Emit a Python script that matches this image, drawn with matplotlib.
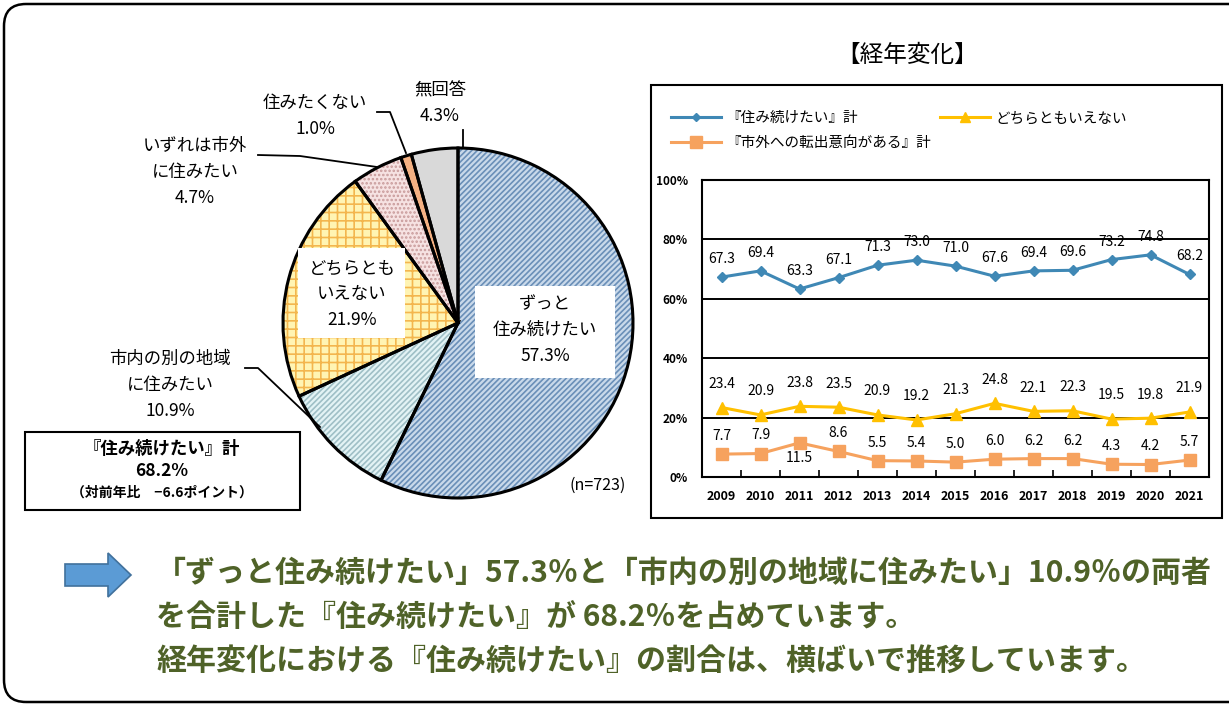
import matplotlib as mpl
import matplotlib.pyplot as plt
from matplotlib.patches import Rectangle, FancyBboxPatch, Polygon
from matplotlib.lines import Line2D
import numpy as np

plt.rcParams['font.family'] = ['Noto Sans CJK JP', 'DejaVu Sans']
plt.rcParams['hatch.linewidth'] = 1.2

# pie data (clockwise from top)
pie_labels = ['ずっと\n住み続けたい', '市内の別の地域\nに住みたい', 'どちらとも\nいえない',
              'いずれは市外\nに住みたい', '住みたくない', '無回答']
pie_values = [57.3, 10.9, 21.9, 4.7, 1.0, 4.3]
pie_n = 723

# trend data
years = ['2009', '2010', '2011', '2012', '2013', '2014', '2015', '2016', '2017',
         '2018', '2019', '2020', '2021']
stay_total = [67.3, 69.4, 63.3, 67.1, 71.3, 73.0, 71.0, 67.6, 69.4, 69.6, 73.2, 74.8, 68.2]
neither = [23.4, 20.9, 23.8, 23.5, 20.9, 19.2, 21.3, 24.8, 22.1, 22.3, 19.5, 19.8, 21.9]
move_out = [7.7, 7.9, 11.5, 8.6, 5.5, 5.4, 5.0, 6.0, 6.2, 6.2, 4.3, 4.2, 5.7]
series_names = ['『住み続けたい』計', 'どちらともいえない', '『市外への転出意向がある』計']

W, H = 1229, 706
fig = plt.figure(figsize=(W / 100, H / 100), dpi=100)

# overlay axes in pixel coordinates (y up)
ov = fig.add_axes([0, 0, 1, 1])


def py(y):
    return H - y


face = ['#c9d9ea', '#e3f3f5', '#fff4b3', '#f6e2e2', '#f4b183', '#d9d9d9']
hatch_c = ['#6a8fb8', '#9fbfc6', '#f3b64e', '#c89a9a', '#f4b183', '#d9d9d9']
hatches = ['//////', '//////', '++', '....', None, None]
cx, cy, r = 458, py(323), 175

wedges, _ = ov.pie(pie_values, startangle=90, counterclock=False, colors=face,
                   center=(cx, cy), radius=r, wedgeprops=dict(linewidth=0))
for w, hc, h in zip(wedges, hatch_c, hatches):
    w.set_edgecolor(hc)
    if h:
        w.set_hatch(h)
ov.pie(pie_values, startangle=90, counterclock=False, center=(cx, cy), radius=r,
       wedgeprops=dict(fill=False, edgecolor='black', linewidth=2.2))

ov.set_xlim(0, W)
ov.set_ylim(0, H)
ov.set_aspect('auto')
ov.axis('off')

# outer rounded frame
ov.add_patch(FancyBboxPatch((4, 4), W + 20, H - 8, boxstyle='round,pad=0,rounding_size=22',
                            fill=False, edgecolor='black', linewidth=1.8))

# label boxes inside pie
ov.add_patch(Rectangle((475, py(378)), 140, 92, facecolor='white', edgecolor='none', zorder=3))
ov.add_patch(Rectangle((298, py(338)), 107, 90, facecolor='white', edgecolor='none', zorder=3))

pf = 12.5
ov.text(545, py(330), '%s\n%.1f%%' % (pie_labels[0], pie_values[0]), ha='center', va='center',
        fontsize=pf, linespacing=1.55, zorder=4)
ov.text(352, py(294), '%s\n%.1f%%' % (pie_labels[2], pie_values[2]), ha='center', va='center',
        fontsize=pf, linespacing=1.55, zorder=4)
ov.text(170, py(385), '%s\n%.1f%%' % (pie_labels[1], pie_values[1]), ha='center', va='center',
        fontsize=pf, linespacing=1.55)
ov.text(195, py(172), '%s\n%.1f%%' % (pie_labels[3], pie_values[3]), ha='center', va='center',
        fontsize=pf, linespacing=1.55)
ov.text(315, py(116), '%s\n%.1f%%' % (pie_labels[4], pie_values[4]), ha='center', va='center',
        fontsize=pf, linespacing=1.55)
ov.text(440, py(103), '%s\n%.1f%%' % (pie_labels[5], pie_values[5]), ha='center', va='center',
        fontsize=pf, linespacing=1.55)
ov.text(598, py(485), '(n=%d)' % pie_n, ha='center', va='center', fontsize=11.5)

# leader lines
for xs, ys in [([245, 258, 320], [368, 368, 427]),
               ([258, 300, 377], [155, 156, 167]),
               ([377, 390, 406], [112, 112, 153]),
               ([463, 463], [130, 148])]:
    ov.plot(xs, [py(v) for v in ys], color='black', linewidth=1.3)

# summary box
ov.add_patch(Rectangle((25, py(510)), 275, 78, fill=False, edgecolor='black', linewidth=1.5))
ov.text(162, py(449), '『住み続けたい』計', ha='center', va='center', fontsize=12.5, fontweight='bold')
ov.text(162, py(471), '68.2%', ha='center', va='center', fontsize=12.5, fontweight='bold')
ov.text(162, py(493), '（対前年比　−6.6ポイント）', ha='center', va='center', fontsize=10,
        fontweight='bold')

# trend panel frame and title
ov.add_patch(Rectangle((651, py(518)), 571, 433, fill=False, edgecolor='black', linewidth=1.5))
ov.text(907, py(55), '【経年変化】', ha='center', va='center', fontsize=17)

# bottom arrow + text
ov.add_patch(Polygon([(65, py(564)), (108, py(564)), (108, py(553)), (131, py(575)),
                      (108, py(597)), (108, py(586)), (65, py(586))],
                     closed=True, facecolor='#5b9bd5', edgecolor='#41719c', linewidth=1.2))
txt_c = '#4f6228'
bottom_lines = ['「ずっと住み続けたい」57.3％と「市内の別の地域に住みたい」10.9％の両者',
                'を合計した『住み続けたい』が 68.2％を占めています。',
                '経年変化における『住み続けたい』の割合は、横ばいで推移しています。']
for i, s in enumerate(bottom_lines):
    ov.text(156, py(573 + 44 * i), s, ha='left', va='center', fontsize=21.6, fontweight='bold',
            color=txt_c)

# line chart
ax = fig.add_axes([702 / W, 1 - 477 / H, 507 / W, 297 / H])
x = np.arange(len(years))
c_blue, c_yel, c_org = '#3f88b5', '#ffc000', '#f6a25e'
ax.plot(x, stay_total, color=c_blue, marker='D', markersize=5, linewidth=2.2, label=series_names[0])
ax.plot(x, neither, color=c_yel, marker='^', markersize=9, linewidth=2.2, label=series_names[1])
ax.plot(x, move_out, color=c_org, marker='s', markersize=9, linewidth=2.2, label=series_names[2])

lf = 10
for i, v in enumerate(stay_total):
    ax.annotate('%.1f' % v, (i, v), xytext=(0, 13), textcoords='offset points', ha='center',
                va='center', fontsize=lf)
for i, v in enumerate(neither):
    ax.annotate('%.1f' % v, (i, v), xytext=(0, 17), textcoords='offset points', ha='center',
                va='center', fontsize=lf)
for i, v in enumerate(move_out):
    off = -11 if v == max(move_out) else 13
    ax.annotate('%.1f' % v, (i, v), xytext=(0, off), textcoords='offset points', ha='center',
                va='center', fontsize=lf)

ax.set_xlim(-0.5, len(years) - 0.5)
ax.set_ylim(0, 100)
ax.set_yticks([0, 20, 40, 60, 80, 100])
ax.set_yticklabels(['0%', '20%', '40%', '60%', '80%', '100%'], fontsize=8.5, fontweight='bold')
ax.set_xticks(x)
ax.set_xticklabels(years, fontsize=9, fontweight='bold')
ax.set_xticks(np.arange(0.5, len(years) - 1, 1), minor=True)
ax.tick_params(axis='x', which='major', length=0, pad=9)
ax.tick_params(axis='x', which='minor', direction='in', length=5, width=1.2)
ax.tick_params(axis='y', length=0, pad=10)
for yv in [20, 40, 60, 80]:
    ax.axhline(yv, color='black', linewidth=1.4, zorder=0)
for sp in ax.spines.values():
    sp.set_linewidth(1.5)

handles = [Line2D([], [], color=c_blue, marker='D', markersize=4, linewidth=2.2),
           Line2D([], [], color=c_org, marker='s', markersize=8, linewidth=2.2),
           Line2D([], [], color=c_yel, marker='^', markersize=7, linewidth=2.2)]
fig.legend(handles, [series_names[0], series_names[2], series_names[1]], ncol=2,
           loc='upper left', bbox_to_anchor=(658 / W, 1 - 98 / H), frameon=False,
           fontsize=10.5, handlelength=3.4, columnspacing=0.6, labelspacing=0.75,
           handletextpad=0.4)

fig.savefig('out.png', dpi=100)
